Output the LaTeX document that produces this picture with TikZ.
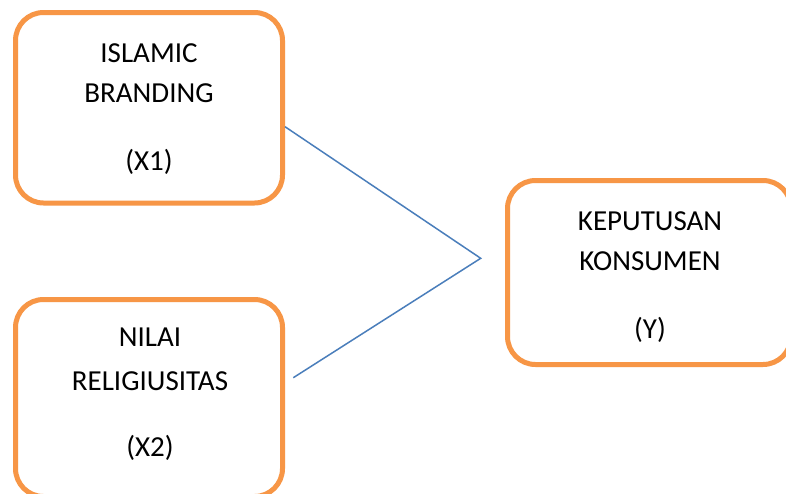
\documentclass[tikz,border=0pt]{standalone}
\usepackage{fontspec}
\setmainfont{Carlito}
\definecolor{boxorange}{HTML}{F79646}
\definecolor{lineblue}{HTML}{4A7EBB}
\begin{document}
\begin{tikzpicture}[x=1pt,y=-1pt,
  varbox/.style={draw=boxorange,line width=5pt,rounded corners=28pt,fill=white,inner sep=0pt},
  lbl/.style={anchor=base,inner sep=0pt,font=\fontsize{29}{35}\selectfont},
  link/.style={draw=lineblue,line width=1.5pt}]
\useasboundingbox[fill=white] (0,0) rectangle (786,493);
\node[varbox,minimum width=267pt,minimum height=190.5pt] (b1) at (149,107.75) {};
\node[varbox,minimum width=267pt,minimum height=197pt] (b2) at (149,398) {};
\node[varbox,minimum width=283.5pt,minimum height=184pt] (b3) at (649.25,272.5) {};
\node[lbl] (t1a) at (149,62.7) {ISLAMIC};
\node[lbl] (t1b) at (149,102.5) {BRANDING};
\node[lbl] (t1c) at (149,170) {(X1)};
\node[lbl] (t2a) at (150,346.7) {NILAI};
\node[lbl] (t2b) at (150,390) {RELIGIUSITAS};
\node[lbl] (t2c) at (150,456.7) {(X2)};
\node[lbl] (t3a) at (650,230) {KEPUTUSAN};
\node[lbl] (t3b) at (650,270) {KONSUMEN};
\node[lbl] (t3c) at (650,338) {(Y)};
\coordinate (s1) at (b1.east |- 0,126.7);
\coordinate (s2) at (293.3,377.7);
\coordinate (j) at (480.7,258.3);
\draw[link] (s1) -- (j) -- (s2);
\end{tikzpicture}
\end{document}
